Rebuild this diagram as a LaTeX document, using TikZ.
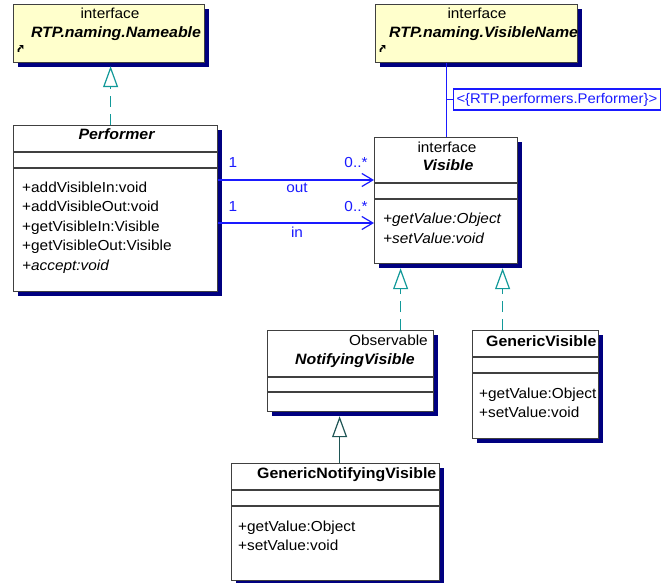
\documentclass[tikz,border=0pt]{standalone}
\usepackage{fontspec}
\setmainfont[FakeStretch=1.06]{Liberation Sans}
\usetikzlibrary{arrows.meta,shadows}
\definecolor{boxgray}{HTML}{404040}
\definecolor{ifaceyellow}{HTML}{FFFFCC}
\definecolor{shadownavy}{HTML}{000080}
\definecolor{assocblue}{HTML}{1A1AFF}
\definecolor{realteal}{HTML}{129999}
\definecolor{genteal}{HTML}{1F5555}
\begin{document}
\begin{tikzpicture}[x=1pt,y=-1pt,
  font=\fontsize{14.5}{17}\selectfont,
  umlbox/.style={draw=boxgray, line width=1.2pt, fill=white, inner sep=0pt,
    anchor=north west,
    drop shadow={shadow xshift=4pt, shadow yshift=-4pt, fill=shadownavy, opacity=1}},
  ifacebox/.style={umlbox, fill=ifaceyellow},
  comp/.style={draw=boxgray, line width=1.1pt},
  txt/.style={inner sep=0pt, anchor=base west},
  ctr/.style={inner sep=0pt, anchor=base},
  rgt/.style={inner sep=0pt, anchor=base east},
  ttl/.style={font=\fontsize{15}{17}\selectfont\bfseries\itshape},
  bttl/.style={font=\fontsize{15}{17}\selectfont\bfseries},
  assoc/.style={draw=assocblue, line width=1.2pt,
    -{Straight Barb[length=11pt, width=13pt, line width=1.2pt]}},
  alabel/.style={inner sep=0pt, anchor=base, text=assocblue},
  realize/.style={draw=realteal, line width=1.2pt, dash pattern=on 11pt off 7pt,
    -{Triangle[fill=white, length=21pt, width=15pt, line width=1.2pt, sep=0pt]}},
  extend/.style={draw=genteal, line width=1.2pt,
    -{Triangle[fill=white, length=21pt, width=15pt, line width=1.2pt]}},
  tagbox/.style={draw=assocblue, line width=1.1pt, fill=white, text=assocblue,
    font=\fontsize{14}{17}\selectfont,
    inner xsep=3pt, minimum height=21pt, anchor=west},
]
\useasboundingbox (0,0) rectangle (662,583);
\clip (0,0) rectangle (662,583);

% ---------- class boxes ----------
\node[ifacebox, minimum width=191pt, minimum height=58pt] (nameable) at (13,4) {};
\node[umlbox, minimum width=204pt, minimum height=166pt] (perf) at (13,125) {};
\node[umlbox, minimum width=143pt, minimum height=126pt] (vis) at (374,137) {};
\node[umlbox, minimum width=166pt, minimum height=81pt] (notify) at (267,330) {};
\node[umlbox, minimum width=126pt, minimum height=108pt] (genvis) at (472,330) {};
\node[umlbox, minimum width=208pt, minimum height=117pt] (gennot) at (231,463) {};

% ---------- connectors ----------
% associations Performer -> Visible
\draw[assoc] ([yshift=-55pt]perf.north east) -- ([yshift=-43pt]vis.north west);
\draw[assoc] ([yshift=-98pt]perf.north east) -- ([yshift=-86pt]vis.north west);
\node[alabel] (m1) at (233,168) {1};
\node[alabel] (m2) at (356,168) {0..*};
\node[alabel] (rout) at (297,193) {out};
\node[alabel] (m3) at (233,212) {1};
\node[alabel] (m4) at (356,212) {0..*};
\node[alabel] (rin) at (297,237) {in};

% realizations (dashed)
\draw[realize] ([xshift=-5pt]perf.north) -- ([xshift=1.5pt,yshift=-3pt]nameable.south);
\draw[realize] ([xshift=50pt]notify.north) -- ([xshift=-45.5pt,yshift=-4pt]vis.south);
\draw[realize] ([xshift=-33pt]genvis.north) -- ([xshift=56.5pt,yshift=-4pt]vis.south);

% generalization (solid)
\draw[extend] ([xshift=4pt]gennot.north) -- ([xshift=-11pt,yshift=-4pt]notify.south);

% bound template parameter
\node[tagbox] (tag) at (453,99.5) {<\{RTP.performers.Performer\}>};
\node[ifacebox, minimum width=202pt, minimum height=58pt] (visname) at (375,4) {};
\draw[draw=assocblue, line width=1.1pt] (vis.north) -- (vis.north |- visname.south);
\draw[draw=assocblue, line width=1.1pt] (vis.north |- tag.west) -- (tag.west);

% ---------- RTP.naming.Nameable ----------
\node[ctr] (nmst) at (110,19) {interface};
\node[ctr, ttl] (nmtitle) at (116,38) {RTP.naming.Nameable};
\draw[line width=1.6pt] (18.5,52) -- (18.5,49.5) -- (20.5,47.5);
\fill (19.3,45.2) -- (23.3,45.2) -- (23.3,49.2) -- cycle;

% ---------- RTP.naming.VisibleName ----------
\node[ctr] (vnst) at (477,19) {interface};
\begin{scope}
  \clip ([xshift=0.6pt]visname.north west) rectangle ([xshift=-0.6pt]visname.south east);
  \node[txt, ttl] (vntitle) at (389,38) {RTP.naming.VisibleName};
\end{scope}
\draw[line width=1.6pt] (380.5,52) -- (380.5,49.5) -- (382.5,47.5);
\fill (381.3,45.2) -- (385.3,45.2) -- (385.3,49.2) -- cycle;

% ---------- Performer ----------
\node[ctr, ttl] (pftitle) at (116.5,140) {Performer};
\draw[comp] ([yshift=-27pt]perf.north west) -- ([yshift=-27pt]perf.north east);
\draw[comp] ([yshift=-43pt]perf.north west) -- ([yshift=-43pt]perf.north east);
\node[txt] (pf1) at (22,193) {+addVisibleIn:void};
\node[txt] (pf2) at (22,212) {+addVisibleOut:void};
\node[txt] (pf3) at (22,231.5) {+getVisibleIn:Visible};
\node[txt] (pf4) at (22,251) {+getVisibleOut:Visible};
\node[txt] (pf5) at (22,270) {\itshape +accept:void};

% ---------- Visible ----------
\node[ctr] (vsst) at (447,153) {interface};
\node[ctr, ttl] (vstitle) at (448,171) {Visible};
\draw[comp] ([yshift=-46pt]vis.north west) -- ([yshift=-46pt]vis.north east);
\draw[comp] ([yshift=-62pt]vis.north west) -- ([yshift=-62pt]vis.north east);
\node[txt] (vs1) at (383,224) {\itshape +getValue:Object};
\node[txt] (vs2) at (383,243.5) {\itshape +setValue:void};

% ---------- NotifyingVisible ----------
\node[rgt] (nvst) at (428,345) {Observable};
\node[ctr, ttl] (nvtitle) at (355,364) {NotifyingVisible};
\draw[comp] ([yshift=-47pt]notify.north west) -- ([yshift=-47pt]notify.north east);
\draw[comp] ([yshift=-62pt]notify.north west) -- ([yshift=-62pt]notify.north east);

% ---------- GenericVisible ----------
\begin{scope}
  \clip ([xshift=0.6pt]genvis.north west) rectangle ([xshift=-0.6pt]genvis.south east);
  \node[txt, bttl] (gvtitle) at (486,346) {GenericVisible};
  \node[txt] (gv1) at (479,398) {+getValue:Object};
  \node[txt] (gv2) at (479,417.5) {+setValue:void};
\end{scope}
\draw[comp] ([yshift=-27pt]genvis.north west) -- ([yshift=-27pt]genvis.north east);
\draw[comp] ([yshift=-43pt]genvis.north west) -- ([yshift=-43pt]genvis.north east);

% ---------- GenericNotifyingVisible ----------
\begin{scope}
  \clip ([xshift=0.6pt]gennot.north west) rectangle ([xshift=-0.6pt]gennot.south east);
  \node[txt, bttl] (gntitle) at (257,478) {GenericNotifyingVisible};
\end{scope}
\draw[comp] ([yshift=-27pt]gennot.north west) -- ([yshift=-27pt]gennot.north east);
\draw[comp] ([yshift=-43pt]gennot.north west) -- ([yshift=-43pt]gennot.north east);
\node[txt] (gn1) at (238,531) {+getValue:Object};
\node[txt] (gn2) at (238,550.5) {+setValue:void};
\end{tikzpicture}
\end{document}
